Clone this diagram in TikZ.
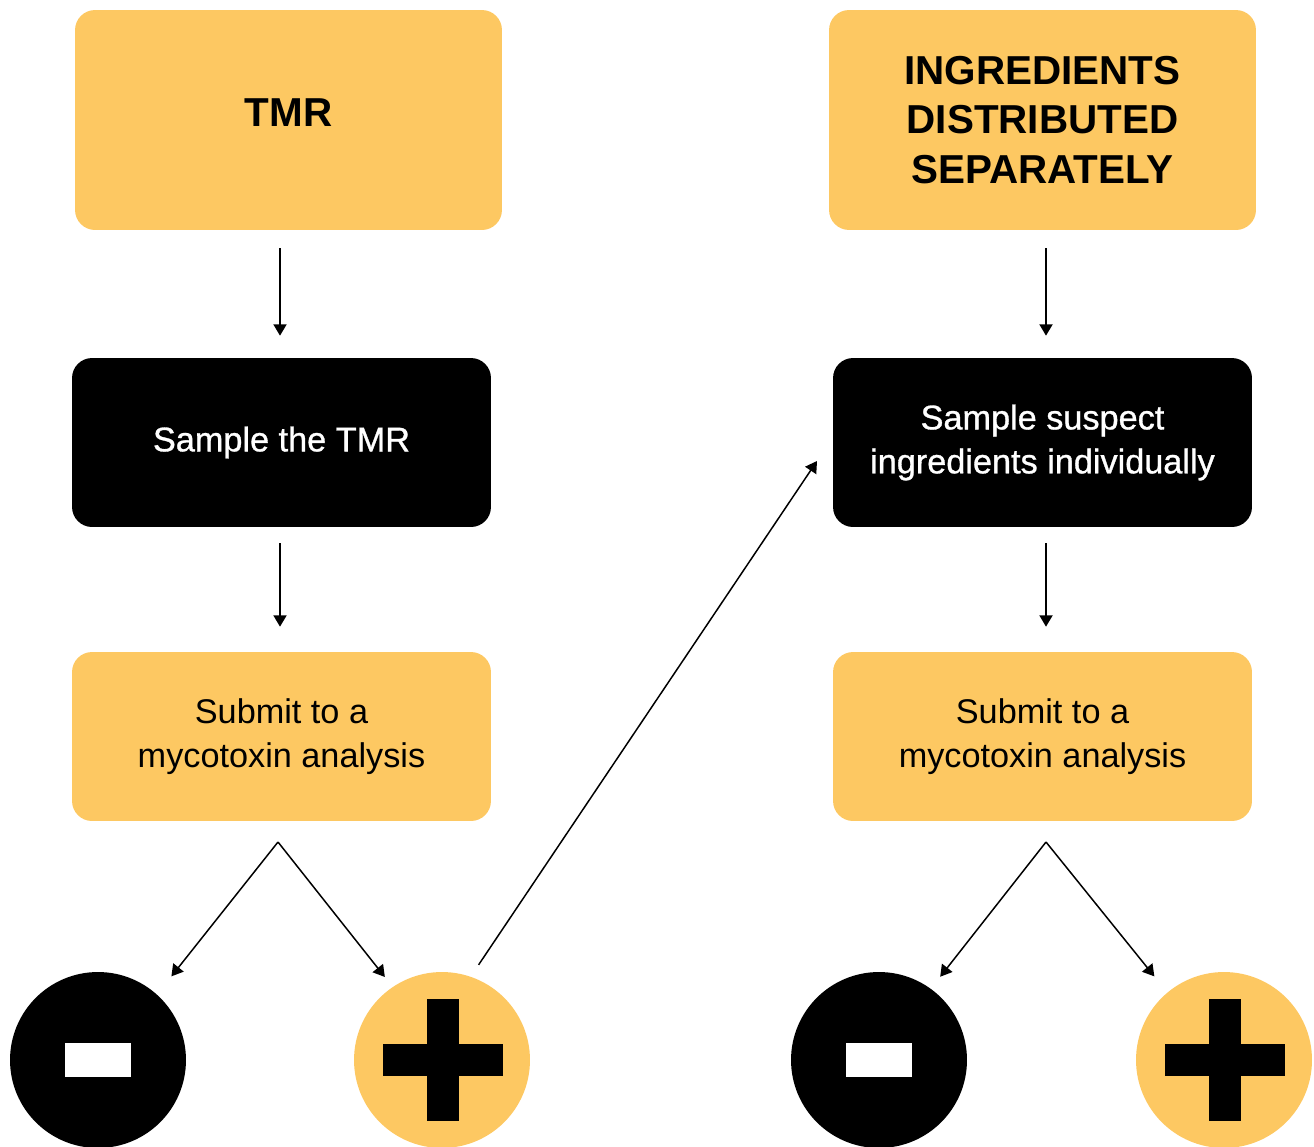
\documentclass[tikz,border=0pt]{standalone}
\usepackage{fontspec}
\setmainfont{Liberation Sans}
\newfontfamily\medfont{Liberation Sans}[BoldFont=Liberation Sans, BoldFeatures={FakeBold=0.9}]
\usetikzlibrary{arrows.meta,calc}
\definecolor{gold}{HTML}{FDC862}
\tikzset{
  yelbox/.style={fill=gold, rounded corners=0.4cm, align=center, text=black},
  blkbox/.style={fill=black, rounded corners=0.4cm, align=center, text=white,
    minimum width=8.38cm, minimum height=3.38cm, font=\medfont\bfseries\fontsize{19.5}{25}\selectfont},
  headbox/.style={yelbox, minimum width=8.54cm, minimum height=4.4cm, font=\fontsize{23}{28.3}\selectfont\bfseries},
  subbox/.style={yelbox, minimum width=8.38cm, minimum height=3.38cm, font=\fontsize{19.5}{25}\selectfont},
  arr/.style={draw=black, line width=0.85pt, -{Triangle[width=7.5pt,length=6.5pt]}},
  negc/.style={circle, fill=black, minimum size=3.52cm, inner sep=0pt},
  posc/.style={circle, fill=gold, minimum size=3.52cm, inner sep=0pt}
}
\begin{document}
\begin{tikzpicture}[x=0.02cm, y=-0.02cm]
\useasboundingbox (0,0) rectangle (1314,1146);
% boxes
\node[headbox] (tmr) at (288.5,120) {\raisebox{0.28cm}{TMR}};
\node[headbox] (ing) at (1042.5,120) {INGREDIENTS\\DISTRIBUTED\\SEPARATELY};
\node[blkbox] (s1) at (281.5,442.5) {Sample the TMR};
\node[blkbox] (s2) at (1042.5,442.5) {Sample suspect\\ingredients individually};
\node[subbox] (u1) at (281.5,736.5) {Submit to a\\mycotoxin analysis};
\node[subbox] (u2) at (1042.5,736.5) {Submit to a\\mycotoxin analysis};
% circles
\node[negc] (m1) at (98,1060) {};
\node[posc] (p1) at (442,1060) {};
\node[negc] (m2) at (879,1060) {};
\node[posc] (p2) at (1224,1060) {};
\fill[white] ($(m1)+(-33,-17)$) rectangle ($(m1)+(33,17)$);
\fill[white] ($(m2)+(-33,-17)$) rectangle ($(m2)+(33,17)$);
\foreach \p in {p1,p2}{
  \fill[black] ($(\p)+(-59,-16)$) rectangle ($(\p)+(61,16)$);
  \fill[black] ($(\p)+(-15,-61)$) rectangle ($(\p)+(17,61)$);
}
% vertical arrows
\draw[arr, shorten <=0.36cm, shorten >=0.44cm] ($(s1.north |- tmr.south)+(-1.5,0)$) -- ($(s1.north)+(-1.5,0)$);
\draw[arr, shorten <=0.32cm, shorten >=0.5cm] ($(s1.south)+(-1.5,0)$) -- ($(u1.north)+(-1.5,0)$);
\draw[arr, shorten <=0.36cm, shorten >=0.44cm] ($(s2.north |- ing.south)+(3.5,0)$) -- ($(s2.north)+(3.5,0)$);
\draw[arr, shorten <=0.32cm, shorten >=0.5cm] ($(s2.south)+(3.5,0)$) -- ($(u2.north)+(3.5,0)$);
% forks
\coordinate (f1) at (278,842);
\coordinate (f2) at (1046,842);
\draw[arr, shorten >=0.46cm] (f1) -- (m1.48);
\draw[arr, shorten >=0.25cm] (f1) -- (p1.124);
\draw[arr, shorten >=0.3cm] (f2) -- (m2.54);
\draw[arr, shorten >=0.41cm] (f2) -- (p2.130);
% diagonal
\coordinate (t) at (817,461);
\draw[arr, shorten <=0.28cm] (p1.71) -- (t);
\end{tikzpicture}
\end{document}
